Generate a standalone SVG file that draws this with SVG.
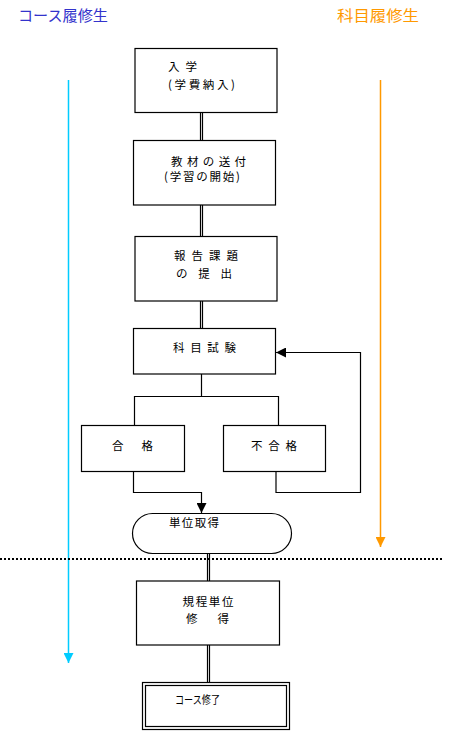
<svg xmlns="http://www.w3.org/2000/svg" width="455" height="741" viewBox="0 0 455 741">
<style>
.box{fill:#fff;stroke:#000;stroke-width:1.2}
.ln{fill:none;stroke:#000;stroke-width:1.2}
.t{font-family:"Noto Sans CJK JP","Noto Sans CJK SC",sans-serif;font-size:11.5px;fill:#000}
.h{font-family:"Noto Sans CJK JP","Noto Sans CJK SC",sans-serif;font-size:15px}
</style>
<defs>
<marker id="ab" viewBox="0 0 10 10" refX="10" refY="5" markerWidth="10" markerHeight="10" markerUnits="userSpaceOnUse" orient="auto"><path d="M0,0 L10,5 L0,10 Z" fill="#000"/></marker>
<marker id="ac" viewBox="0 0 10 10" refX="10" refY="5" markerWidth="10" markerHeight="10" markerUnits="userSpaceOnUse" orient="auto"><path d="M0,0 L10,5 L0,10 Z" fill="#00CCFF"/></marker>
<marker id="ao" viewBox="0 0 10 10" refX="10" refY="5" markerWidth="10" markerHeight="10" markerUnits="userSpaceOnUse" orient="auto"><path d="M0,0 L10,5 L0,10 Z" fill="#FF9900"/></marker>
</defs>
<rect width="455" height="741" fill="#fff"/>

<g id="lane-titles">
<text class="h" x="18" y="21" fill="#3333CC" textLength="90" lengthAdjust="spacingAndGlyphs">コース履修生</text>
<text class="h" x="337" y="21" fill="#FF9900" textLength="82" lengthAdjust="spacingAndGlyphs">科目履修生</text>
</g>

<g id="lane-arrows">
<line x1="68.5" y1="80" x2="68.5" y2="663" stroke="#00CCFF" stroke-width="1.5" marker-end="url(#ac)"/>
<line x1="380.5" y1="80" x2="380.5" y2="547" stroke="#FF9900" stroke-width="1.5" marker-end="url(#ao)"/>
<line x1="0" y1="559" x2="443" y2="559" stroke="#000" stroke-width="2" stroke-dasharray="2 2"/>
</g>

<g id="connectors">
<path class="ln" d="M200.5,112.5V140.5M202.5,112.5V140.5"/>
<path class="ln" d="M200.5,205V236.5M202.5,205V236.5"/>
<path class="ln" d="M200.5,301V328.5M202.5,301V328.5"/>
<path class="ln" d="M201.5,374V396.5M134.5,425.5V396.5H278.5V425.5"/>
<path class="ln" d="M133.5,471.5V492.5H201.5V513" marker-end="url(#ab)"/>
<path class="ln" d="M276,471.5V492.5H360.5V352.5H276" marker-end="url(#ab)"/>
<path class="ln" d="M207.5,553.5V581M209.5,553.5V581"/>
<path class="ln" d="M207.5,645V682.5M209.5,645V682.5"/>
</g>

<g id="n-nyugaku">
<rect class="box" x="135" y="48.5" width="142" height="64"/>
<text class="t" x="168" y="71" textLength="29" lengthAdjust="spacing">入　学</text>
<text class="t" x="168" y="89" textLength="67" lengthAdjust="spacing">(学費納入)</text>
</g>
<g id="n-kyozai">
<rect class="box" x="133.5" y="140.5" width="142" height="64.5"/>
<text class="t" x="171" y="166" textLength="75" lengthAdjust="spacing">教材の送付</text>
<text class="t" x="164" y="181" textLength="76" lengthAdjust="spacing">(学習の開始)</text>
</g>
<g id="n-hokoku">
<rect class="box" x="135" y="236.5" width="142" height="64.5"/>
<text class="t" x="174" y="260" textLength="64" lengthAdjust="spacing">報告課題</text>
<text class="t" x="176" y="278" textLength="56" lengthAdjust="spacing">の　提　出</text>
</g>
<g id="n-shiken">
<rect class="box" x="133.5" y="328.5" width="142" height="45.5"/>
<text class="t" x="173" y="352" textLength="63" lengthAdjust="spacing">科目試験</text>
</g>
<g id="n-gokaku">
<rect class="box" x="81.5" y="425.5" width="103" height="46"/>
<text class="t" x="112" y="450" textLength="41" lengthAdjust="spacing">合　格</text>
</g>
<g id="n-fugokaku">
<rect class="box" x="223.5" y="425.5" width="102" height="46"/>
<text class="t" x="251" y="450" textLength="46" lengthAdjust="spacing">不合格</text>
</g>
<g id="n-tani">
<rect class="box" x="132.5" y="513.5" width="159" height="40" rx="20"/>
<text class="t" x="169" y="527" textLength="50" lengthAdjust="spacing">単位取得</text>
</g>
<g id="n-kitei">
<rect class="box" x="136.5" y="581" width="143" height="64"/>
<text class="t" x="182.5" y="606" textLength="51" lengthAdjust="spacing">規程単位</text>
<text class="t" x="186" y="623" textLength="43" lengthAdjust="spacing">修　得</text>
</g>
<g id="n-shuryo">
<rect class="box" x="142.5" y="682.5" width="147" height="47"/>
<rect class="box" x="145.5" y="685.5" width="141" height="41"/>
<text class="t" x="175" y="704" textLength="45" lengthAdjust="spacingAndGlyphs">コース修了</text>
</g>
</svg>
